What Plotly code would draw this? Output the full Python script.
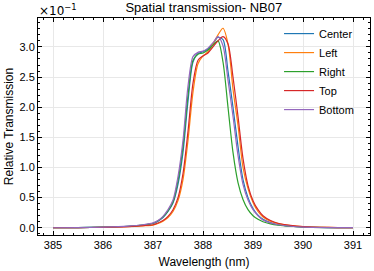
import plotly.graph_objects as go

# Wavelength grid (nm)
wavelength = [385.0, 385.5, 386.0, 386.5, 386.8, 387.0, 387.1, 387.2, 387.3, 387.4,
              387.5, 387.6, 387.7, 387.8, 387.9, 388.0, 388.1, 388.2, 388.3, 388.4,
              388.5, 388.6, 388.7, 388.8, 388.9, 389.0, 389.1, 389.2, 389.35, 389.5,
              389.75, 390.0, 390.5, 391.0]

# Relative transmission (x 1e-1)
center = [0.0, 0.003, 0.01, 0.025, 0.045, 0.07, 0.11, 0.17, 0.27, 0.41,
          0.72, 1.25, 2.1, 2.75, 2.89, 2.92, 2.97, 3.05, 3.16, 3.12,
          2.6, 2.0, 1.35, 0.8, 0.5, 0.32, 0.21, 0.14, 0.085, 0.05,
          0.027, 0.013, 0.004, 0.001]
left = [0.0, 0.002, 0.008, 0.02, 0.033, 0.045, 0.07, 0.11, 0.17, 0.27,
        0.45, 0.8, 1.45, 2.25, 2.72, 2.85, 2.92, 3.05, 3.2, 3.31,
        3.05, 2.3, 1.7, 1.0, 0.65, 0.42, 0.27, 0.18, 0.11, 0.07,
        0.035, 0.018, 0.005, 0.001]
right = [0.0, 0.003, 0.01, 0.025, 0.045, 0.075, 0.115, 0.18, 0.28, 0.43,
         0.78, 1.35, 2.2, 2.78, 2.88, 2.9, 2.95, 3.03, 3.1, 2.75,
         2.0, 1.25, 0.75, 0.47, 0.3, 0.2, 0.14, 0.1, 0.066, 0.045,
         0.025, 0.012, 0.004, 0.001]
top = [0.0, 0.002, 0.008, 0.02, 0.035, 0.05, 0.08, 0.12, 0.19, 0.3,
       0.5, 0.9, 1.6, 2.4, 2.78, 2.85, 2.9, 3.0, 3.1, 3.17,
       3.05, 2.5, 1.85, 1.15, 0.7, 0.45, 0.3, 0.2, 0.12, 0.075,
       0.04, 0.02, 0.006, 0.002]
bottom = [0.0, 0.003, 0.011, 0.027, 0.05, 0.08, 0.12, 0.19, 0.3, 0.46,
          0.85, 1.45, 2.35, 2.84, 2.91, 2.93, 2.98, 3.07, 3.17, 3.02,
          2.45, 1.85, 1.2, 0.72, 0.46, 0.3, 0.2, 0.13, 0.08, 0.05,
          0.025, 0.012, 0.004, 0.001]

names = ["Center", "Left", "Right", "Top", "Bottom"]
series = [center, left, right, top, bottom]
colors = ["#1f77b4", "#ff7f0e", "#2ca02c", "#d62728", "#9467bd"]

x_ticks = [385, 386, 387, 388, 389, 390, 391]
y_ticks = [0.0, 0.5, 1.0, 1.5, 2.0, 2.5, 3.0]
offset_label = "×10<sup>−1</sup>"

FONT = "Liberation Sans, Arial, Helvetica, sans-serif"

fig = go.Figure()
for name, ys, c in zip(names, series, colors):
    fig.add_trace(go.Scatter(x=wavelength, y=ys, name=name, mode="lines",
                             line=dict(color=c, width=1.2, shape="spline", smoothing=0.8)))

axis_common = dict(
    showline=True, linecolor="black", linewidth=1, mirror="allticks",
    ticks="inside", ticklen=4, tickwidth=0.8, tickcolor="black",
    showgrid=True, gridcolor="#e8e8e8", gridwidth=1, zeroline=False,
    automargin=False,
    tickfont=dict(size=11, color="black", family=FONT),
)

fig.update_xaxes(range=[384.7, 391.34], tickvals=x_ticks,
                 ticktext=[str(v) for v in x_ticks],
                 minor=dict(ticks="inside", ticklen=2, tickwidth=0.6, tickcolor="black",
                            dtick=0.2, showgrid=False),
                 title=dict(text="Wavelength (nm)", font=dict(size=12, family=FONT, color="black"), standoff=7),
                 **axis_common)
fig.update_yaxes(range=[-0.12, 3.48], tickvals=y_ticks,
                 ticktext=[f"{v:.1f}" for v in y_ticks],
                 minor=dict(ticks="inside", ticklen=2, tickwidth=0.6, tickcolor="black",
                            dtick=0.1, showgrid=False),
                 title=dict(text="Relative Transmission", font=dict(size=12, family=FONT, color="black"), standoff=3),
                 **axis_common)

fig.update_layout(
    width=374, height=271,
    margin=dict(l=38, r=4, t=18, b=36, autoexpand=False),
    paper_bgcolor="white", plot_bgcolor="white",
    font=dict(family=FONT, size=11, color="black"),
    title=dict(text="Spatial transmission- NB07", x=0.545, xanchor="center",
               y=0.99, yanchor="top", font=dict(size=13, family=FONT, color="black")),
    legend=dict(x=0.726, y=0.995, xanchor="left", yanchor="top",
                bgcolor="rgba(255,255,255,0)", borderwidth=0,
                font=dict(size=11, family=FONT, color="black"),
                itemwidth=30, tracegroupgap=0),
    showlegend=True,
)

fig.add_annotation(text=offset_label, xref="x", yref="paper",
                   x=385.1, y=1.037, xanchor="center", yanchor="middle", showarrow=False,
                   font=dict(size=12, family="DejaVu Sans", color="black"))

fig.write_html("out.html", config={"displayModeBar": False},
               post_script="document.body.style.margin='0';")
